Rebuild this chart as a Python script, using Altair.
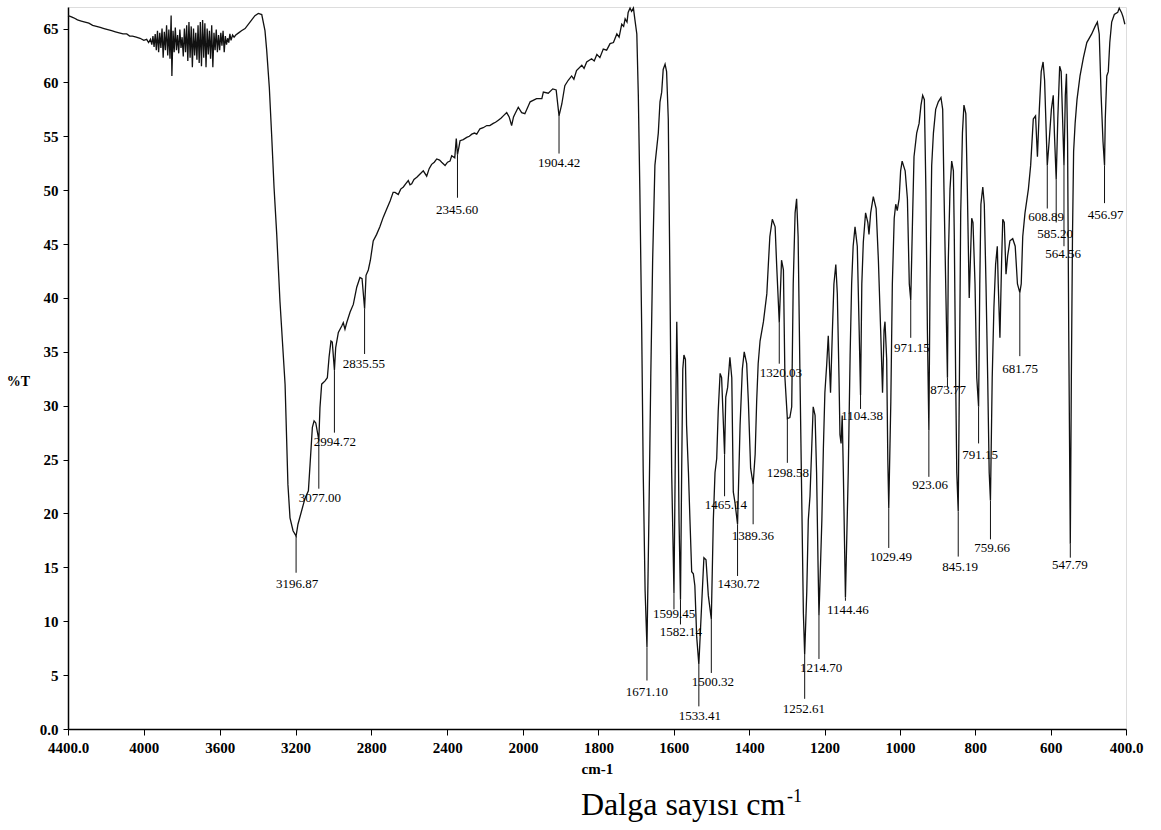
import altair as alt
import pandas as pd

wavenumber = [
    4400, 4385, 4370, 4350, 4330, 4310, 4290, 4270, 4250, 4230, 4210, 4190, 4170, 4150, 4130, 4110,
    4090, 4075, 4060, 4040, 4020, 4000, 3985, 3975,
    3965, 3958, 3952, 3946, 3940, 3934, 3928, 3922, 3916, 3910, 3904, 3898, 3892, 3886, 3880, 3874,
    3868, 3862, 3856, 3852, 3846, 3840, 3834, 3828, 3822, 3816, 3810, 3804, 3798, 3792, 3786, 3780,
    3774, 3768, 3762, 3756, 3750, 3744, 3738, 3732, 3726, 3720, 3714, 3708, 3702, 3696, 3690, 3684,
    3678, 3672, 3666, 3660, 3654, 3648, 3642, 3636, 3630, 3624, 3618, 3612, 3606, 3600, 3594, 3588,
    3582, 3576, 3570, 3564, 3558, 3552, 3546, 3540, 3532, 3524,
    3515, 3500, 3485, 3466, 3440, 3414, 3396, 3378, 3361, 3352, 3338, 3326, 3313, 3299, 3282, 3255,
    3240, 3229, 3213, 3196.87, 3187, 3150, 3132, 3123, 3111, 3102, 3093, 3077, 3071, 3062, 3044, 3032,
    3023, 3013, 3006, 2994.72, 2988, 2974, 2956, 2948, 2939, 2930, 2912, 2895, 2877, 2860, 2849, 2835.55,
    2828, 2816, 2805, 2790, 2772, 2755, 2737, 2720, 2701, 2685, 2675, 2658, 2645, 2631, 2618, 2605,
    2596, 2587, 2575, 2560, 2543, 2526, 2508, 2495, 2482, 2468, 2455, 2440, 2429, 2411, 2398, 2385,
    2376, 2360, 2352, 2345.6, 2338, 2332, 2315, 2297, 2283, 2270, 2256, 2244, 2227, 2210, 2191, 2175,
    2157, 2145, 2130, 2115, 2104, 2086, 2073, 2060, 2050, 2042, 2025, 2007, 1995, 1981, 1964, 1950,
    1946, 1933, 1921, 1912, 1904.42, 1897, 1889, 1880, 1871, 1865, 1858, 1844, 1838, 1831, 1818, 1811,
    1804, 1796, 1787, 1778, 1769, 1760, 1751, 1745, 1738, 1733, 1729, 1724, 1721, 1716, 1712, 1707,
    1703, 1698, 1694, 1690, 1685, 1681, 1676, 1671.1, 1666, 1661, 1656, 1650, 1641, 1636.5, 1632, 1628,
    1623, 1619, 1614.5, 1610, 1605.5, 1599.45, 1595, 1592, 1589.5, 1586, 1582.14, 1579, 1576, 1573, 1569, 1566,
    1561, 1557, 1552.4, 1548, 1544, 1539, 1533.41, 1526, 1520, 1514.4, 1508.3, 1500.32, 1495, 1490.5, 1486, 1482,
    1477, 1473, 1465.14, 1462, 1457, 1451, 1446, 1442, 1437.5, 1430.72, 1424, 1418, 1413, 1406.5, 1402, 1396,
    1389.36, 1384, 1380, 1376, 1371, 1362, 1353, 1349, 1345, 1338.5, 1331, 1327, 1320.03, 1314, 1309, 1305,
    1298.58, 1292, 1287, 1283, 1278, 1274, 1270, 1265, 1260.5, 1256, 1252.61, 1247, 1243, 1238.5, 1234, 1230,
    1225, 1221, 1217, 1214.7, 1207, 1203, 1199, 1194, 1190, 1187.5, 1184, 1179, 1175, 1170, 1166, 1161.5,
    1159, 1156, 1153, 1150, 1144.46, 1137, 1132, 1128, 1124, 1119, 1113, 1108, 1104.38, 1101, 1097, 1091,
    1085, 1082, 1077.5, 1070.5, 1063, 1057, 1051, 1046, 1042, 1039.5, 1035, 1032, 1029.49, 1024, 1020, 1015,
    1011, 1007, 1002, 998, 994, 986, 980, 975, 971.15, 966, 962.5, 955.4, 949, 944, 939.5, 935,
    931, 927, 923.06, 920, 915.6, 911, 905, 898, 891, 886.4, 883, 878.4, 873.77, 871.5, 867, 862.5,
    858, 855.6, 852, 849, 845.19, 842, 838.6, 834, 830, 825, 821, 816, 809.4, 806, 800.6, 796,
    791.15, 788, 785, 780, 776, 771.5, 767, 763, 759.66, 755, 750.5, 746, 741.5, 739, 734.5, 730,
    727, 723, 718.4, 714, 708, 700.6, 694, 688, 681.75, 678, 674, 668, 659, 653, 646, 640,
    635, 630, 625, 620, 616, 608.89, 604, 598, 593, 590, 585.2, 581, 576, 572, 564.56, 561,
    558, 555, 552, 547.79, 545, 542, 539, 535, 530, 522, 513, 504, 491, 482, 476, 471,
    466, 461, 456.97, 455, 451, 447, 443, 438, 431, 422, 418, 412, 408, 403,
]

transmittance = [
    66.2, 66.1, 66.0, 65.8, 65.7, 65.6, 65.5, 65.3, 65.2, 65.1, 65.0, 64.9, 64.8, 64.7, 64.6, 64.5,
    64.5, 64.3, 64.3, 64.2, 64.1, 63.9, 64.0, 63.7,
    64.0, 63.5, 64.3, 63.3, 64.5, 63.0, 64.8, 62.8, 64.6, 63.2, 65.0, 62.3, 64.7, 63.0, 65.3, 62.5,
    64.9, 62.2, 66.2, 60.6, 64.8, 62.8, 65.1, 63.0, 64.4, 62.7, 64.9, 63.2, 64.2, 62.4, 65.0, 62.8,
    65.3, 62.0, 65.6, 62.3, 65.2, 61.4, 65.0, 62.5, 64.6, 62.1, 65.3, 61.8, 65.6, 61.5, 65.8, 62.3,
    65.5, 61.4, 65.0, 62.6, 64.8, 62.2, 65.3, 61.4, 64.6, 63.0, 64.9, 62.8, 64.4, 63.0, 64.6, 63.4,
    64.8, 62.8, 64.3, 63.5, 64.1, 63.7, 64.5, 63.9, 64.4, 64.2,
    64.4, 64.6, 64.8, 65.0, 65.6, 66.2, 66.4, 66.3, 64.8, 63.0, 59.5, 55.2, 50.2, 45.9, 39.7, 32.0,
    22.7, 19.6, 18.4, 17.9, 19.0, 21.4, 22.1, 24.6, 28.0, 28.6, 28.4, 26.8, 29.8, 32.0, 32.3, 32.6,
    34.5, 36.0, 35.9, 33.3, 35.4, 36.8, 37.4, 37.7, 37.1, 37.7, 38.7, 39.4, 41.0, 41.9, 41.8, 39.0,
    42.1, 42.6, 43.5, 45.3, 45.9, 46.6, 47.5, 48.2, 49.0, 49.8, 49.8, 49.6, 50.1, 50.3, 50.6, 50.9,
    50.5, 50.6, 51.0, 51.2, 51.5, 51.8, 51.3, 52.0, 52.4, 52.6, 52.9, 52.8, 52.6, 52.3, 52.6, 52.7,
    53.2, 53.0, 54.8, 53.3, 54.0, 54.6, 54.7, 54.9, 55.0, 55.2, 55.3, 55.2, 55.7, 55.8, 56.0, 56.0,
    56.2, 56.3, 56.5, 56.7, 56.9, 57.2, 56.8, 56.0, 56.8, 57.1, 57.7, 57.2, 57.1, 58.2, 58.5, 58.5,
    59.1, 59.0, 59.4, 59.3, 56.9, 58.0, 59.7, 60.2, 60.6, 60.3, 61.1, 61.6, 61.3, 61.9, 62.2, 62.0,
    62.6, 62.3, 63.1, 63.0, 63.6, 63.7, 64.5, 64.2, 65.4, 65.2, 65.9, 65.6, 66.5, 66.9, 66.6, 66.9,
    65.8, 64.5, 58.8, 50.1, 37.0, 23.8, 12.8, 7.6, 19.4, 32.6, 43.5, 52.3, 55.3, 58.2, 59.1, 61.2,
    61.7, 61.0, 56.6, 41.3, 23.8, 12.6, 28.2, 37.8, 32.6, 19.4, 12.0, 23.8, 33.4, 34.7, 34.3, 28.2,
    23.8, 19.4, 14.6, 14.4, 13.3, 8.5, 6.0, 11.5, 15.9, 15.7, 12.4, 10.2, 19.4, 23.8, 25.1, 29.5,
    33.0, 32.6, 25.5, 30.8, 31.7, 34.5, 32.6, 22.0, 21.0, 19.0, 28.2, 33.4, 35.0, 33.9, 30.4, 24.2,
    22.7, 25.5, 30.4, 33.9, 36.0, 37.8, 40.4, 43.1, 45.7, 47.3, 46.6, 43.1, 37.7, 43.5, 42.6, 32.6,
    28.8, 28.9, 29.9, 41.3, 47.9, 49.2, 45.7, 32.6, 21.6, 10.7, 6.9, 12.8, 19.4, 21.6, 26.0, 29.9,
    29.1, 23.8, 15.0, 10.5, 19.4, 26.0, 31.2, 33.9, 36.5, 34.3, 31.2, 37.0, 41.3, 43.1, 40.4, 32.6,
    27.3, 26.5, 29.1, 23.8, 12.2, 23.8, 34.7, 41.3, 44.8, 46.6, 44.8, 37.0, 31.0, 41.3, 45.2, 47.9,
    47.0, 45.9, 47.9, 49.4, 48.3, 43.5, 37.0, 31.2, 37.0, 37.8, 34.3, 25.0, 20.5, 30.4, 41.3, 47.4,
    48.7, 48.1, 49.2, 51.8, 52.7, 51.8, 49.2, 41.3, 39.8, 47.9, 53.1, 55.3, 56.2, 57.9, 58.8, 58.4,
    50.1, 37.0, 27.7, 41.3, 52.3, 55.3, 57.5, 58.2, 58.6, 57.5, 50.1, 41.3, 32.6, 43.5, 50.1, 52.7,
    51.8, 45.7, 32.6, 23.8, 20.2, 32.6, 47.9, 55.3, 57.9, 57.1, 50.1, 40.0, 47.4, 47.0, 41.3, 32.6,
    29.9, 41.3, 48.7, 50.3, 48.7, 41.3, 32.6, 23.8, 21.2, 32.6, 39.1, 43.1, 44.8, 41.3, 36.3, 43.5,
    47.3, 47.0, 42.2, 43.9, 45.3, 45.5, 44.8, 41.3, 40.5, 41.3, 45.7, 47.9, 50.1, 52.3, 56.6, 56.9,
    53.1, 57.5, 61.0, 61.9, 60.2, 52.3, 54.5, 57.5, 58.8, 55.3, 51.0, 56.6, 61.5, 61.0, 52.3, 58.8,
    60.8, 54.5, 37.0, 17.2, 32.6, 45.7, 53.6, 56.2, 58.4, 60.6, 62.3, 63.7, 64.5, 65.2, 65.6, 64.5,
    58.8, 54.5, 52.3, 56.6, 60.6, 61.0, 63.7, 65.6, 66.3, 66.5, 66.9, 66.5, 66.1, 65.4,
]

peak_labels = ["3196.87", "3077.00", "2994.72", "2835.55", "2345.60", "1904.42", "1671.10",
               "1599.45", "1582.14", "1533.41", "1500.32", "1465.14", "1430.72", "1389.36",
               "1320.03", "1298.58", "1252.61", "1214.70", "1144.46", "1104.38", "1029.49",
               "971.15", "923.06", "873.77", "845.19", "791.15", "759.66", "681.75",
               "608.89", "585.20", "564.56", "547.79", "456.97"]
peak_wn = [3196.87, 3077, 2994.72, 2835.55, 2345.6, 1904.42, 1671.1,
           1599.45, 1582.14, 1533.41, 1500.32, 1465.14, 1430.72, 1389.36,
           1320.03, 1298.58, 1252.61, 1214.7, 1144.46, 1104.38, 1029.49,
           971.15, 923.06, 873.77, 845.19, 791.15, 759.66, 681.75,
           608.89, 585.2, 564.56, 547.79, 456.97]
peak_top = [17.9, 26.8, 33.3, 39.0, 53.3, 56.9, 7.6,
            12.6, 12.0, 6.0, 10.2, 25.5, 19.0, 22.7,
            37.7, 28.8, 6.9, 10.5, 12.2, 31.0, 20.5,
            39.8, 27.7, 32.6, 20.2, 29.9, 21.2, 40.5,
            52.3, 51.0, 52.3, 17.2, 52.3]
peak_bottom = [14.5, 22.3, 27.5, 34.8, 49.3, 53.4, 4.5,
               11.1, 9.7, 2.1, 5.2, 21.6, 14.2, 19.0,
               33.9, 24.7, 2.8, 6.5, 11.9, 29.7, 16.8,
               36.3, 23.4, 31.7, 16.0, 26.5, 17.6, 34.6,
               48.3, 47.0, 44.8, 15.9, 48.8]
label_wn = [3192, 3071, 2992, 2839, 2348, 1904, 1671,
            1599, 1581, 1531, 1496, 1462, 1428, 1390,
            1316, 1297, 1255, 1209, 1138, 1100, 1024,
            968, 920, 872, 840, 787, 755, 681,
            612, 588, 567, 549, 454]
label_t = [13.5, 21.4, 26.6, 33.9, 48.2, 52.5, 3.4,
           10.7, 9.0, 1.2, 4.4, 20.8, 13.5, 17.9,
           33.0, 23.8, 1.9, 5.7, 11.0, 29.0, 16.0,
           35.4, 22.6, 31.5, 15.0, 25.4, 16.8, 33.4,
           47.5, 45.9, 44.1, 15.2, 47.7]

x_ticks = [4400, 4000, 3600, 3200, 2800, 2400, 2000, 1800, 1600, 1400, 1200, 1000, 800, 600, 400]
y_ticks = [0, 5, 10, 15, 20, 25, 30, 35, 40, 45, 50, 55, 60, 65]

W, H = 1058, 722
FONT = "Liberation Serif"

spec = pd.DataFrame({"wn": wavenumber, "T": transmittance})
peaks = pd.DataFrame({"label": peak_labels, "wn": peak_wn, "top": peak_top,
                      "bottom": peak_bottom, "lx": label_wn, "ly": label_t})

xscale = alt.Scale(domain=[4400, 2000, 400], range=[0, 455, W], nice=False, zero=False)
yscale = alt.Scale(domain=[0, 67], nice=False, zero=False)

xaxis = alt.Axis(
    values=x_ticks,
    labelExpr="datum.value == 4400 ? '4400.0' : (datum.value == 400 ? '400.0' : '' + datum.value)",
    title="cm-1", titleX=513, titleY=44, titleAlign="left", titleBaseline="alphabetic",
    titleFont=FONT, titleFontSize=15, titleFontWeight="bold", titleColor="black",
    labelFont=FONT, labelFontSize=15, labelFontWeight="bold", labelColor="black",
    tickSize=6, labelPadding=5, tickColor="black", domainColor="black", domainWidth=1.5,
    grid=False, labelOverlap=False, labelFlush=False,
)
yaxis = alt.Axis(
    values=y_ticks,
    labelExpr="datum.value == 0 ? '0.0' : '' + datum.value",
    title="%T", titleAngle=0, titleX=-50, titleY=374, titleAlign="center",
    titleBaseline="middle", titleFont=FONT, titleFontSize=14, titleFontWeight="bold",
    titleColor="black",
    labelFont=FONT, labelFontSize=15, labelFontWeight="bold", labelColor="black",
    tickSize=5, labelPadding=5, tickColor="black", domainColor="black", domainWidth=1.5,
    grid=False, labelOverlap=False,
)

line = alt.Chart(spec).mark_line(color="#111111", strokeWidth=1.3).encode(
    x=alt.X("wn:Q", scale=xscale, axis=xaxis),
    y=alt.Y("T:Q", scale=yscale, axis=yaxis),
)

rules = alt.Chart(peaks).mark_rule(color="#111111", strokeWidth=1).encode(
    x=alt.X("wn:Q", scale=xscale),
    y=alt.Y("top:Q", scale=yscale),
    y2="bottom:Q",
)

texts = alt.Chart(peaks).mark_text(font=FONT, fontSize=13, color="black",
                                   align="center", baseline="middle").encode(
    x=alt.X("lx:Q", scale=xscale),
    y=alt.Y("ly:Q", scale=yscale),
    text="label:N",
)

main_title = alt.Chart(pd.DataFrame({"t": ["Dalga sayısı cm"]})).mark_text(
    font=FONT, fontSize=32, color="black", align="left", baseline="alphabetic"
).encode(x=alt.value(513), y=alt.value(808), text="t:N")

sup = alt.Chart(pd.DataFrame({"t": ["-1"]})).mark_text(
    font=FONT, fontSize=18, color="black", align="left", baseline="alphabetic"
).encode(x=alt.value(719), y=alt.value(795), text="t:N")

chart = alt.layer(line, rules, texts, main_title, sup).properties(
    width=W, height=H,
    autosize=alt.AutoSizeParams(type="none"),
    padding={"left": 68, "top": 7, "right": 35, "bottom": 101},
).configure_view(stroke=None).configure(background="white")

chart.save("out.html", embed_options={"renderer": "svg", "actions": False})
